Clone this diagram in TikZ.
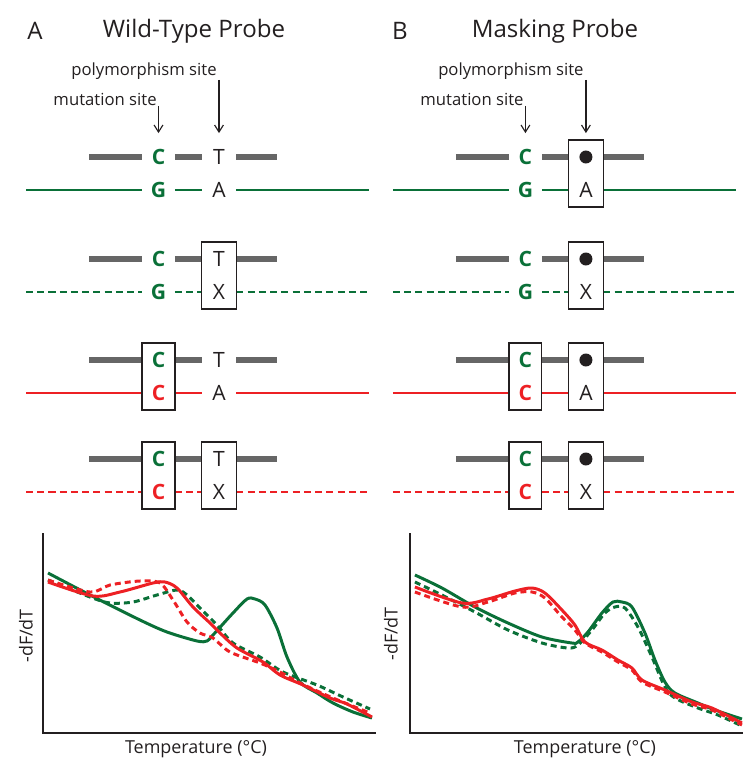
\documentclass[tikz,border=0pt]{standalone}
\usepackage{fontspec}
\setmainfont{Open Sans}
\usepackage{tikz}
\usetikzlibrary{arrows.meta}
\usetikzlibrary{fit}

\definecolor{wtgreen}{RGB}{10,112,56}
\definecolor{mtred}{RGB}{237,32,36}
\definecolor{probegray}{RGB}{102,102,102}
\definecolor{inkblack}{RGB}{35,31,32}

\tikzset{
  site/.style={inner sep=0pt, minimum height=18.78pt, text=inkblack,
               font=\fontsize{12}{14}\selectfont},
  mutsite/.style={site, minimum width=18.21pt, text=wtgreen,
                  font=\fontsize{12}{14}\selectfont\bfseries},
  polysite/.style={site, minimum width=19.35pt},
  dotsite/.style={label={[circle,fill=inkblack,inner sep=0pt,minimum size=7.4pt]center:}},
  probe/.style={draw=probegray, line width=3.4pt},
  wtline/.style={draw=wtgreen, line width=1.1pt},
  wtdash/.style={draw=wtgreen, line width=1.4pt, dash pattern=on 4pt off 2.4pt},
  mtline/.style={draw=mtred, line width=1.1pt},
  mtdash/.style={draw=mtred, line width=1.4pt, dash pattern=on 4pt off 2.4pt},
  sitebox/.style={draw=inkblack, line width=0.75pt, inner sep=0pt},
  sitelabel/.style={inner sep=0pt, text=inkblack, font=\fontsize{9.5}{11}\selectfont},
  sitearrow/.style={draw=inkblack, line width=0.65pt,
                    -{Straight Barb[length=4pt,width=5pt]}, shorten >=4pt},
  paneltitle/.style={text=inkblack, font=\fontsize{13.7}{16}\selectfont},
  axis/.style={draw=inkblack, line width=1.1pt},
  axlabel/.style={text=inkblack, font=\fontsize{10.2}{12}\selectfont},
  wtcurve/.style={draw=wtgreen, line width=1.7pt, line join=round},
  wtcurvedash/.style={wtcurve, dash pattern=on 3.4pt off 2.3pt},
  mtcurve/.style={draw=mtred, line width=1.7pt, line join=round},
  mtcurvedash/.style={mtcurve, dash pattern=on 3.4pt off 2.3pt},
}

% #1 prefix, #2 probe y, #3 target style, #4/#5 mutation partner colour/base,
% #6 polymorphism site style, #7 probe base, #8 target base
\newcommand{\duplex}[8]{%
  \coordinate (#1pl) at (89,#2);
  \coordinate (#1pr) at (277,#2);
  \coordinate (#1tl) at (26,#2+33);
  \coordinate (#1tr) at (369,#2+33);
  \node[mutsite] (#1m) at (158.5,#2) {C};
  \node[mutsite,text=#4] (#1mm) at (158.5,#2+33) {#5};
  \node[polysite,#6] (#1p) at (219,#2) {#7};
  \node[polysite] (#1pp) at (219,#2+33) {#8};
  \draw[probe] (#1pl) -- (#1m.west) (#1m.east) -- (#1p.west) (#1p.east) -- (#1pr);
  \draw[#3] (#1tl) -- (#1mm.west) (#1mm.east) -- (#1pp.west) (#1pp.east) -- (#1tr);
}

\begin{document}
\begin{tikzpicture}[x=0.02cm,y=-0.02cm]
\useasboundingbox (0,0) rectangle (750,767);

\begin{scope}
    \node[paneltitle] (atag) at (35,31) {A};
    \node[paneltitle] (atitle) at (194,31) {Wild-Type Probe};

    \duplex{a1}{157}{wtline}{wtgreen}{G}{}{T}{A}
    \duplex{a2}{259}{wtdash}{wtgreen}{G}{}{T}{X}
    \duplex{a3}{360}{mtline}{mtred}{C}{}{T}{A}
    \duplex{a4}{459}{mtdash}{mtred}{C}{}{T}{X}

    \node[sitebox, fit=(a2p)(a2pp)] (a2pbox) {};
    \node[sitebox, fit=(a3m)(a3mm)] (a3mbox) {};
    \node[sitebox, fit=(a4m)(a4mm)] (a4mbox) {};
    \node[sitebox, fit=(a4p)(a4pp)] (a4pbox) {};

    \node[sitelabel, anchor=south east] (apoly) at (217,80) {polymorphism site};
    \node[sitelabel, anchor=south east] (amut) at (157,106) {mutation site};
    \draw[sitearrow] (apoly.south east -| a1p.north) -- (a1p.north);
    \draw[sitearrow] (amut.south east -| a1m.north) -- (a1m.north);

    \coordinate (atop) at (43,533);
    \coordinate (aorig) at (43,733);
    \coordinate (aend) at (376,733);
    \draw[axis] (atop) -- (aorig) -- (aend);
    \node[axlabel, rotate=90] (aylab) at (26,636) {-dF/dT};
    \node[axlabel] (axlab) at (196,749) {Temperature (°C)};

    \draw[wtcurve] plot[smooth, tension=0.5] coordinates {(48,573) (90,595) (140,620) (167,632)
        (197,641) (207,641) (213,635) (233,613) (247,599) (255,599) (265,605) (277,628)
        (287,657) (300,682) (317,693) (333,703) (353,712) (372,718)};
    \draw[wtcurvedash] plot[smooth, tension=0.5] coordinates {(48,580) (90,597) (110,603) (133,602)
        (157,595) (177,590) (187,595) (200,608) (217,625) (233,643) (260,657) (283,672)
        (317,685) (343,697) (370,709)};
    \draw[mtcurve] plot[smooth, tension=0.5] coordinates {(48,582) (93,596) (120,592) (153,583)
        (165,582) (177,588) (193,607) (210,623) (220,633) (237,648) (263,662) (280,675)
        (303,685) (330,698) (347,704) (372,717)};
    \draw[mtcurvedash] plot[smooth, tension=0.5] coordinates {(48,580) (90,592) (110,585) (140,581)
        (160,583) (173,600) (187,622) (200,633) (213,638) (230,652) (260,663) (280,672)
        (300,683) (333,698) (370,713)};
\end{scope}

\begin{scope}[xshift=7.34cm]
    \node[paneltitle] (btag) at (33,31) {B};
    \node[paneltitle] (btitle) at (188,31) {Masking Probe};

    \duplex{b1}{157}{wtline}{wtgreen}{G}{dotsite}{}{A}
    \duplex{b2}{259}{wtdash}{wtgreen}{G}{dotsite}{}{X}
    \duplex{b3}{360}{mtline}{mtred}{C}{dotsite}{}{A}
    \duplex{b4}{459}{mtdash}{mtred}{C}{dotsite}{}{X}

    \node[sitebox, fit=(b1p)(b1pp)] (b1pbox) {};
    \node[sitebox, fit=(b2p)(b2pp)] (b2pbox) {};
    \node[sitebox, fit=(b3m)(b3mm)] (b3mbox) {};
    \node[sitebox, fit=(b3p)(b3pp)] (b3pbox) {};
    \node[sitebox, fit=(b4m)(b4mm)] (b4mbox) {};
    \node[sitebox, fit=(b4p)(b4pp)] (b4pbox) {};

    \node[sitelabel, anchor=south east] (bpoly) at (217,80) {polymorphism site};
    \node[sitelabel, anchor=south east] (bmut) at (157,106) {mutation site};
    \draw[sitearrow] (bpoly.south east -| b1p.north) -- (b1p.north);
    \draw[sitearrow] (bmut.south east -| b1m.north) -- (b1m.north);

    \coordinate (btop) at (43,533);
    \coordinate (borig) at (43,733);
    \coordinate (bend) at (376,733);
    \draw[axis] (btop) -- (borig) -- (bend);
    \node[axlabel, rotate=90] (bylab) at (24,634) {-dF/dT};
    \node[axlabel] (bxlab) at (218,749) {Temperature (°C)};

    \draw[wtcurve] plot[smooth, tension=0.5] coordinates {(48,575) (75,588) (108,607) (141,623)
        (175,637) (205,643) (211,642) (221,632) (235,613) (246,602) (255,602) (265,607)
        (278,633) (288,660) (298,682) (308,693) (331,703) (348,710) (375,719)};
    \draw[wtcurvedash] plot[smooth, tension=0.5] coordinates {(48,582) (75,595) (108,612) (141,630)
        (175,643) (201,648) (211,645) (225,630) (238,613) (248,607) (258,608) (271,627)
        (285,657) (298,687) (308,698) (331,708) (351,715) (375,726)};
    \draw[mtcurve] plot[smooth, tension=0.5] coordinates {(48,587) (95,603) (121,599) (148,591)
        (165,588) (178,593) (195,610) (208,625) (218,642) (235,650) (251,660) (265,668)
        (275,680) (298,690) (325,702) (345,708) (375,723)};
    \draw[mtcurvedash] plot[smooth, tension=0.5] coordinates {(48,592) (95,607) (121,602) (148,593)
        (165,592) (178,598) (195,617) (208,630) (218,643) (235,652) (251,662) (265,670)
        (275,682) (298,692) (325,704) (345,710) (375,725)};
\end{scope}
\end{tikzpicture}
\end{document}
